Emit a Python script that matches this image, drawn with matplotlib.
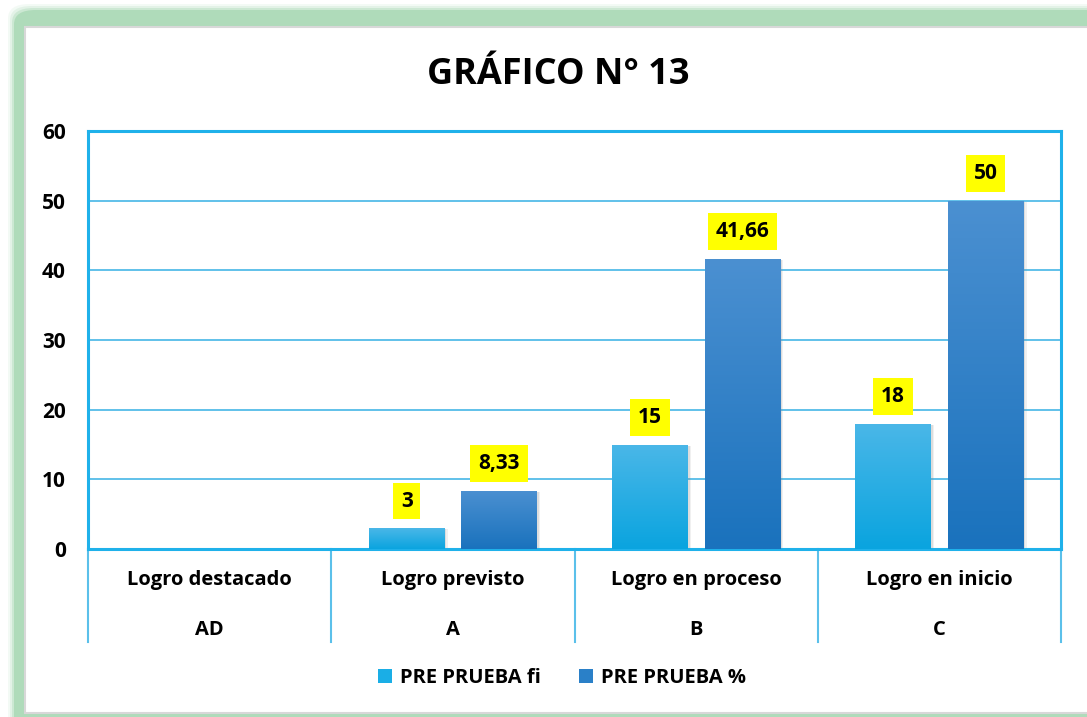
import matplotlib.pyplot as plt
import numpy as np
from matplotlib.patches import FancyBboxPatch, Rectangle, Patch
from matplotlib.colors import LinearSegmentedColormap

categories = ["Logro destacado", "Logro previsto", "Logro en proceso", "Logro en inicio"]
codes = ["AD", "A", "B", "C"]
pre_fi = [0, 3, 15, 18]
pre_pct = [0, 8.33, 41.66, 50]
fi_labels = ["", "3", "15", "18"]
pct_labels = ["", "8,33", "41,66", "50"]
series_names = ["PRE PRUEBA fi", "PRE PRUEBA %"]

W, H = 1087, 717
FONT = "Open Sans"
BLUE_LINE = "#1fb1ea"
GRID = "#45b6e6"

plt.rcParams["font.family"] = [FONT, "DejaVu Sans"]
plt.rcParams["font.weight"] = "bold"

fig = plt.figure(figsize=(W / 100, H / 100), dpi=100)
fig.patch.set_facecolor("white")


def fx(px):
    return px / W


def fy(py):
    return 1 - py / H


# green blurred frame and white panel
for grow, alpha in [(6, 0.12), (4, 0.2), (2, 0.35), (0, 0.7)]:
    fig.add_artist(FancyBboxPatch(
        (fx(14 - grow), fy(740)), fx(1200), fy(10 - grow) - fy(740),
        boxstyle="round,pad=0,rounding_size=0.02",
        transform=fig.transFigure, facecolor="#a3d6b0", edgecolor="none",
        alpha=alpha, zorder=0))
fig.add_artist(Rectangle((fx(25), fy(713)), fx(1200), fy(27) - fy(713),
                         transform=fig.transFigure, facecolor="white",
                         edgecolor="#d8d8d8", linewidth=1.5, zorder=0.5))

ax = fig.add_axes([fx(88), fy(549), fx(1061) - fx(88), fy(131) - fy(549)])
ax.set_facecolor("none")
ax.set_zorder(2)

x = np.arange(len(categories))
width = 0.31
off = 0.19

cmap_fi = LinearSegmentedColormap.from_list("fi", ["#0aa4df", "#4ab7e8"])
cmap_pct = LinearSegmentedColormap.from_list("pct", ["#1a72bd", "#4b90d1"])

bars_fi = ax.bar(x - off, pre_fi, width, color="#1aaee6", zorder=3)
bars_pct = ax.bar(x + off, pre_pct, width, color="#2a80c8", zorder=3)

grad = np.linspace(0, 1, 100).reshape(-1, 1)
for bars, cmap in [(bars_fi, cmap_fi), (bars_pct, cmap_pct)]:
    for b in bars:
        if b.get_height() <= 0:
            continue
        x0, w, h = b.get_x(), b.get_width(), b.get_height()
        # soft shadow
        for k, a in [(0.014, 0.12), (0.008, 0.18)]:
            ax.add_patch(Rectangle((x0 + k, -0.3), w, h + 0.1,
                                   facecolor="#8a8a8a", alpha=a,
                                   edgecolor="none", zorder=2))
        im = ax.imshow(grad, extent=(x0, x0 + w, 0, h), origin="lower",
                       cmap=cmap, aspect="auto", zorder=3.5)
        im.set_clip_path(b)

for bars, labels in [(bars_fi, fi_labels), (bars_pct, pct_labels)]:
    for b, lab in zip(bars, labels):
        if not lab:
            continue
        ax.annotate(lab, (b.get_x() + b.get_width() / 2, b.get_height()),
                    xytext=(0, 19.5), textcoords="offset points",
                    ha="center", va="center", fontsize=15, fontweight="bold",
                    bbox=dict(boxstyle="square,pad=0.38", facecolor="#ffff00",
                              edgecolor="none"), zorder=6)

ax.set_xlim(-0.5, len(categories) - 0.5)
ax.set_ylim(0, 60)
ax.set_yticks(np.arange(0, 61, 10))
ax.yaxis.grid(True, color=GRID, linewidth=1.2, zorder=1)
ax.set_axisbelow(True)
ax.tick_params(axis="y", length=0, pad=16, labelsize=15)
ax.tick_params(axis="x", length=0, labelbottom=False)
for lbl in ax.get_yticklabels():
    lbl.set_fontweight("bold")
for sp in ax.spines.values():
    sp.set_color(BLUE_LINE)
    sp.set_linewidth(2.2)

trans = ax.get_xaxis_transform()
for i in range(len(categories) + 1):
    ax.plot([i - 0.5, i - 0.5], [0, -0.222], transform=trans, color="#5bc0ea",
            linewidth=1.5, clip_on=False, zorder=1)
for i, (cat, code) in enumerate(zip(categories, codes)):
    ax.text(i, -0.074, cat, transform=trans, ha="center", va="center",
            fontsize=14.5, fontweight="bold")
    ax.text(i, -0.194, code, transform=trans, ha="center", va="center",
            fontsize=14.5, fontweight="bold")

fig.text(fx(558), fy(75), "GRÁFICO N° 13", ha="center", va="center",
         fontsize=26, fontweight="bold")

handles = [Patch(facecolor="#1aaee6"), Patch(facecolor="#2a80c8")]
fig.legend(handles, series_names, loc="center", bbox_to_anchor=(fx(562), fy(678)),
           ncol=2, frameon=False, handlelength=0.7, handleheight=0.7,
           handletextpad=0.4, columnspacing=1.9,
           prop={"family": FONT, "weight": "bold", "size": 14.5})

fig.savefig("out.png", dpi=100)
